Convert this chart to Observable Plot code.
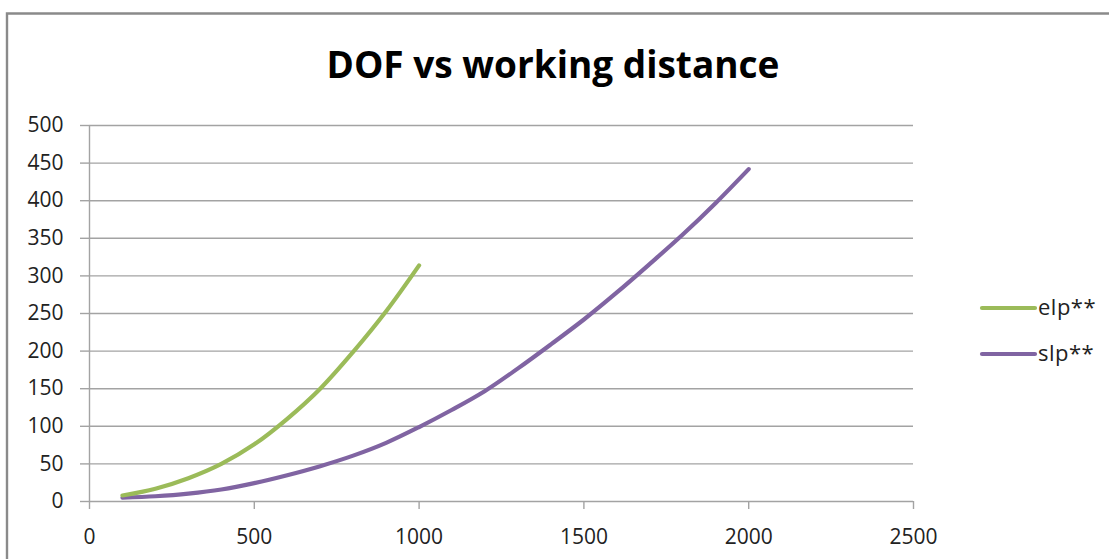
<!DOCTYPE html>
<html><head><meta charset="utf-8">
<script src="https://cdn.jsdelivr.net/npm/d3@7"></script>
<script src="https://cdn.jsdelivr.net/npm/@observablehq/plot@0.6"></script>
<style>
html,body{margin:0;padding:0;background:#fff;}
#wrap{position:relative;width:1109px;height:559px;overflow:hidden;font-family:"Open Sans",sans-serif;}
#wrap svg{position:absolute;left:0;top:0;}
</style>
</head><body>
<div id="wrap"></div>
<script>
const titleText = "DOF vs working distance";
const seriesNames = ["elp**", "slp**"];
const seriesColors = ["#9bbb59", "#8064a2"];
const xTicks = [0, 500, 1000, 1500, 2000, 2500];
const yTicks = [0, 50, 100, 150, 200, 250, 300, 350, 400, 450, 500];

const elpX = [100, 200, 300, 400, 500, 600, 700, 800, 900, 1000];
const elpY = [8, 17, 31, 50, 76, 110, 150, 199, 253, 314];
const slpX = [100, 200, 300, 400, 500, 600, 700, 800, 900, 1000, 1100, 1200, 1300, 1400, 1500, 1600, 1700, 1800, 1900, 2000];
const slpY = [5, 7, 10.5, 16, 24.5, 35, 47, 61, 78, 99, 122, 147, 177, 209, 242, 278, 316, 355, 397, 442];

const elp = elpX.map((x, i) => ({x, y: elpY[i]}));
const slp = slpX.map((x, i) => ({x, y: slpY[i]}));

const chart = Plot.plot({
  width: 1109, height: 559,
  marginLeft: 89, marginRight: 196, marginTop: 125, marginBottom: 58,
  x: {domain: [0, 2500]},
  y: {domain: [0, 500]},
  style: {fontFamily: "'Open Sans', sans-serif", fontSize: "21px", color: "#222", background: "transparent", overflow: "visible"},
  marks: [
    Plot.ruleY(yTicks, {stroke: "#a3a3a3", strokeWidth: 1.4}),
    Plot.ruleX([0], {y1: 0, y2: 500, stroke: "#a3a3a3", strokeWidth: 1.4}),
    Plot.axisY(yTicks, {tickSize: 9, tickPadding: 17, stroke: "#a3a3a3", strokeWidth: 1.4, label: null, fill: "#222", tickFormat: d => String(d)}),
    Plot.axisX(xTicks, {tickSize: 8, tickPadding: 20, stroke: "#a3a3a3", strokeWidth: 1.4, label: null, fill: "#222", tickFormat: d => String(d)}),
    Plot.line(slp, {x: "x", y: "y", stroke: seriesColors[1], strokeWidth: 4.2, curve: "catmull-rom", strokeLinecap: "round"}),
    Plot.line(elp, {x: "x", y: "y", stroke: seriesColors[0], strokeWidth: 4.2, curve: "catmull-rom", strokeLinecap: "round"})
  ]
});
const wrap = document.getElementById("wrap");
wrap.appendChild(chart);

// overlay: frame border, title, legend
const ns = "http://www.w3.org/2000/svg";
const ov = document.createElementNS(ns, "svg");
ov.setAttribute("width", 1109); ov.setAttribute("height", 559);
ov.innerHTML = `
  <path d="M7,559 V13.5 H1109" fill="none" stroke="#8a8a8a" stroke-width="2.4"/>
  <text x="553" y="78" text-anchor="middle" font-family="'Open Sans', sans-serif" font-weight="bold" font-size="37" fill="#000">${titleText}</text>
  ${seriesNames.map((n, i) => `
    <line x1="982" x2="1035" y1="${308 + i * 46}" y2="${308 + i * 46}" stroke="${seriesColors[i]}" stroke-width="4.2" stroke-linecap="round"/>
    <text x="1038" y="${315 + i * 46}" font-family="'Open Sans', sans-serif" font-size="22" letter-spacing="0.5" fill="#222">${n}</text>`).join("")}
`;
wrap.appendChild(ov);
</script>
</body></html>
